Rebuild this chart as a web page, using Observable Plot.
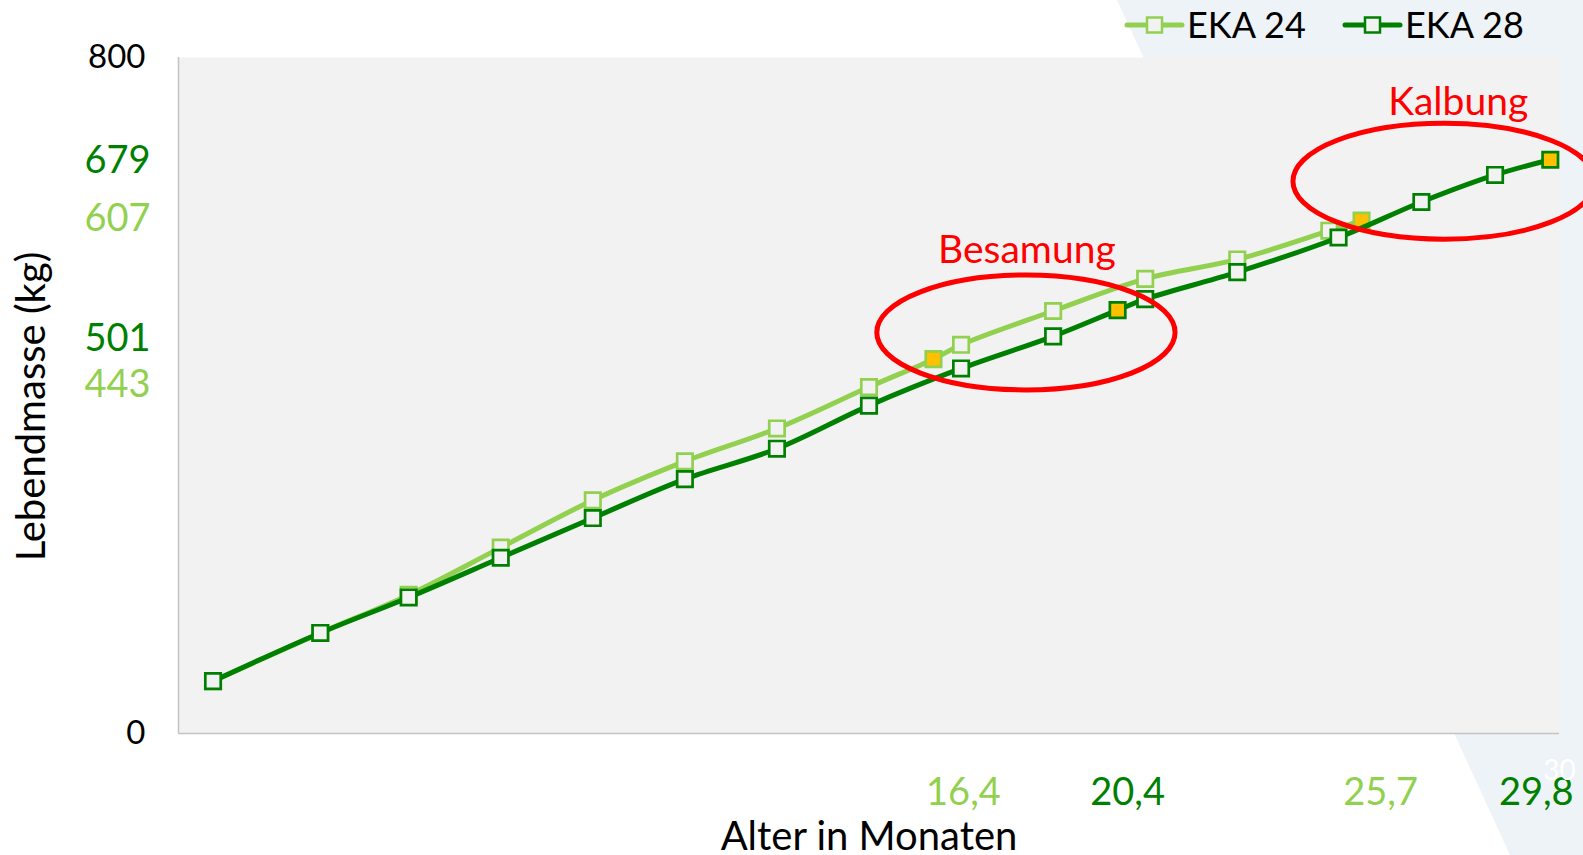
<!DOCTYPE html>
<html>
<head>
<meta charset="utf-8">
<script src="https://cdn.jsdelivr.net/npm/d3@7"></script>
<script src="https://cdn.jsdelivr.net/npm/@observablehq/plot@0.6"></script>
<style>
  html, body { margin: 0; padding: 0; background: #ffffff; width: 1583px; height: 855px; overflow: hidden; font-family: Lato, sans-serif; }
  #bg { position: absolute; left: 0; top: 0; width: 1583px; height: 855px; background: #EEF3F7;
        clip-path: polygon(1117px 0, 1583px 0, 1583px 855px, 1510px 855px); }
  #chart { position: absolute; left: 0; top: 0; }
</style>
</head>
<body>
<div id="bg"></div>
<div id="chart"></div>
<script>
// ---- data ----
const seriesNames = ["EKA 24", "EKA 28"];

const ageEKA24 = [0.75, 3.08, 5, 7, 9, 11, 13, 15, 16.4, 17, 19, 21, 23, 25, 25.7];
const weightEKA24 = [62, 119, 164, 220, 276, 322, 361, 410, 443, 460, 500, 538, 561, 595, 607];

const ageEKA28 = [0.75, 3.08, 5, 7, 9, 11, 13, 15, 17, 19, 20.4, 21, 23, 25.2, 27, 28.6, 29.8];
const weightEKA28 = [62, 119, 161, 208, 255, 301, 337, 388, 432, 470, 501, 514, 546, 587, 629, 661, 679];

// key events (insemination / calving) in months
const eventsEKA24 = [16.4, 25.7];
const eventsEKA28 = [20.4, 29.8];

const yTickValues = [0, 443, 501, 607, 679, 800];
const yTickSeries = ["axis", "EKA 24", "EKA 28", "EKA 24", "EKA 28", "axis"];

const xTickValues = [16.4, 20.4, 25.7, 29.8];
const xTickSeries = ["EKA 24", "EKA 28", "EKA 24", "EKA 28"];
const xHiddenTick = [30];

const annotationLabels = ["Besamung", "Kalbung"];
const annotationX = [18.43, 27.8];
const annotationY = [571, 747];
// ellipses: centre (months, kg), radii (months, kg)
const ellipseCX = [18.42, 27.5];
const ellipseCY = [474, 653];
const ellipseRX = [3.24, 3.28];
const ellipseRY = [68, 68.6];

const xTitle = "Alter in Monaten";
const yTitle = "Lebendmasse (kg)";

// ---- styles ----
const LIGHT = "#92D050";
const DARK = "#008000";
const GOLD = "#FFC000";
const PANEL = "#F2F2F2";
const colorOf = s => s === "EKA 24" ? LIGHT : s === "EKA 28" ? DARK : "#000000";

const eka24 = ageEKA24.map((a, i) => ({age: a, weight: weightEKA24[i], event: eventsEKA24.includes(a)}));
const eka28 = ageEKA28.map((a, i) => ({age: a, weight: weightEKA28[i], event: eventsEKA28.includes(a)}));
const yTicks = yTickValues.map((v, i) => ({value: v, series: yTickSeries[i]}));
const xTicks = xTickValues.map((v, i) => ({value: v, series: xTickSeries[i]}));
// label nudges (pixels), the labels in the original sit slightly off their values
const xLabelNudge = [30, 10, 19, -14];
const yLabelNudge = [0, 26, 29, -2, 1, 0];

const plot = Plot.plot({
  width: 1583,
  height: 855,
  marginLeft: 178,
  marginRight: 24,
  marginTop: 57,
  marginBottom: 122,
  x: {domain: [0, 30], axis: null},
  y: {domain: [0, 800], axis: null},
  color: {type: "identity"},
  style: {background: "transparent", fontFamily: "Lato, sans-serif"},
  marks: [
    Plot.frame({fill: PANEL, stroke: null}),
    Plot.ruleX([0], {stroke: "#C4C4C4", strokeWidth: 1.5}),
    Plot.ruleY([0], {stroke: "#C4C4C4", strokeWidth: 1.5}),
    Plot.line(eka24, {x: "age", y: "weight", stroke: LIGHT, strokeWidth: 5, curve: "catmull-rom"}),
    Plot.dot(eka24, {x: "age", y: "weight", symbol: "square", r: 8.7, stroke: LIGHT, strokeWidth: 2.7,
                     fill: d => d.event ? GOLD : PANEL}),
    Plot.line(eka28, {x: "age", y: "weight", stroke: DARK, strokeWidth: 5, curve: "catmull-rom"}),
    Plot.dot(eka28, {x: "age", y: "weight", symbol: "square", r: 8.7, stroke: DARK, strokeWidth: 2.7,
                     fill: d => d.event ? GOLD : PANEL}),
    // y tick labels
    ...yTicks.map((t, i) => Plot.text([t], {frameAnchor: "left", y: "value", text: d => String(d.value),
                       fill: d => colorOf(d.series), fontSize: t.series === "axis" ? 33 : 38,
                       textAnchor: "end", dx: t.series === "axis" ? -33 : -28, dy: yLabelNudge[i]})),
    // x tick labels
    ...xTicks.map((t, i) => Plot.text([t], {x: "value", frameAnchor: "bottom",
                       text: d => String(d.value).replace(".", ","), fill: d => colorOf(d.series),
                       fontSize: 38, dy: 71, dx: xLabelNudge[i]})),
    Plot.text(xHiddenTick, {x: d => d, frameAnchor: "bottom", text: d => String(d), fill: "#ffffff",
                            fontSize: 28, dy: 46}),
    // axis titles
    Plot.text([xTitle], {frameAnchor: "bottom", text: d => d, fontSize: 40, fill: "#000", dy: 116}),
    Plot.text([yTitle], {frameAnchor: "left", text: d => d, fontSize: 40, fill: "#000", rotate: -90,
                         textAnchor: "middle", dx: -146, dy: 11}),
    // annotation labels
    Plot.text(annotationLabels, {x: (d, i) => annotationX[i], y: (d, i) => annotationY[i], text: d => d,
                                 fill: "#FF0000", fontSize: 39})
  ]
});

document.getElementById("chart").appendChild(plot);

// ellipses through the plot scales
const sx = plot.scale("x"), sy = plot.scale("y");
const svg = d3.select(plot);
ellipseCX.forEach((cx, i) => {
  svg.append("ellipse")
    .attr("cx", sx.apply(cx))
    .attr("cy", sy.apply(ellipseCY[i]))
    .attr("rx", sx.apply(cx + ellipseRX[i]) - sx.apply(cx))
    .attr("ry", sy.apply(ellipseCY[i]) - sy.apply(ellipseCY[i] + ellipseRY[i]))
    .attr("fill", "none")
    .attr("stroke", "#FF0000")
    .attr("stroke-width", 5);
});

// legend (top right)
const legendX = [1127, 1345];
seriesNames.forEach((name, i) => {
  const g = svg.append("g").attr("transform", `translate(${legendX[i]},25)`);
  g.append("line").attr("x1", 0).attr("x2", 55).attr("y1", 0).attr("y2", 0)
    .attr("stroke", colorOf(name)).attr("stroke-width", 5).attr("stroke-linecap", "round");
  g.append("rect").attr("x", 20).attr("y", -7.5).attr("width", 15).attr("height", 15)
    .attr("fill", PANEL).attr("stroke", colorOf(name)).attr("stroke-width", 2.5);
  g.append("text").attr("x", 60).attr("y", 13).attr("font-size", 36).attr("fill", "#000")
    .attr("text-anchor", "start").attr("font-family", "Lato, sans-serif").text(name);
});
</script>
</body>
</html>
